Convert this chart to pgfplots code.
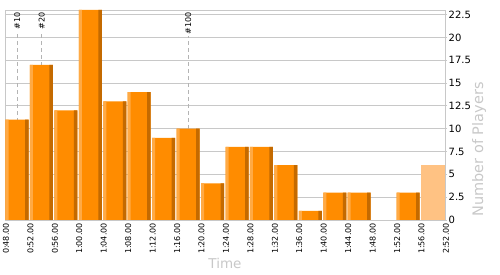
\documentclass[border=0pt]{standalone}
\usepackage{pgfplots}
\usepackage{pgfplotstable}
\usepackage{fontspec}
\setmainfont{DejaVu Sans}
\pgfplotsset{compat=1.18}
\definecolor{barmain}{HTML}{FF8C00}
\definecolor{barlight}{HTML}{FFAA45}
\definecolor{bardark}{HTML}{C46A00}
\definecolor{barlast}{HTML}{FFC283}
\definecolor{gridgray}{HTML}{C8C8C8}
\definecolor{labgray}{HTML}{C8C8C8}
\pgfplotstableread{
idx players
0 11
1 17
2 12
3 23
4 13
5 14
6 9
7 10
8 4
9 8
10 8
11 6
12 1
13 3
14 3
16 3
}\players
\pgfplotstableread{
idx players
17 6
}\lastbin
\begin{document}
\begin{tikzpicture}
\useasboundingbox (-5bp,-55bp) rectangle (495bp,220bp);
\begin{axis}[
  at={(0,0)}, anchor=south west,
  scale only axis,
  width=440bp, height=210bp,
  xmin=0, xmax=18, ymin=0, ymax=23,
  axis line style={gridgray, line width=0.8bp},
  xtick={0,...,18},
  xticklabels={0:48.00,0:52.00,0:56.00,1:00.00,1:04.00,1:08.00,1:12.00,1:16.00,1:20.00,1:24.00,1:28.00,1:32.00,1:36.00,1:40.00,1:44.00,1:48.00,1:52.00,1:56.00,2:52.00},
  xticklabel style={rotate=90, anchor=east, font=\fontsize{8bp}{9bp}\selectfont, yshift=-1bp, inner sep=1bp},
  xtick style={draw=none},
  ytick={0,2.5,...,22.5},
  yticklabel pos=right,
  ytick pos=right,
  ytick style={gridgray, line width=0.8bp},
  tick align=outside,
  major tick length=2bp,
  yticklabel style={font=\fontsize{10bp}{12bp}\selectfont, black, inner sep=1.5bp},
  /pgf/number format/assume math mode=true,
  /pgf/number format/.cd, fixed, precision=1,
  /pgfplots/.cd,
  ymajorgrids,
  grid style={gridgray, line width=0.8bp},
  xlabel={Time},
  xlabel style={at={(axis description cs:0.5,0)}, anchor=center, yshift=-43bp, font=\fontsize{13.5bp}{15bp}\selectfont, labgray},
  ylabel={Number of Players},
  ylabel style={at={(axis description cs:1.0773,0)}, anchor=west, font=\fontsize{14.5bp}{16bp}\selectfont, labgray},
  clip=true,
]
% markers of players' positions
\addplot[gridgray!90!black, dashed, dash pattern=on 4bp off 3bp, line width=0.8bp] coordinates {(0.5,0) (0.5,20.7)}
  node[pos=1, rotate=90, anchor=west, inner sep=1bp, black, font=\fontsize{8bp}{9bp}\selectfont] {\#10};
\addplot[gridgray!90!black, dashed, dash pattern=on 4bp off 3bp, line width=0.8bp] coordinates {(1.5,0) (1.5,20.7)}
  node[pos=1, rotate=90, anchor=west, inner sep=1bp, black, font=\fontsize{8bp}{9bp}\selectfont] {\#20};
\addplot[gridgray!90!black, dashed, dash pattern=on 4bp off 3bp, line width=0.8bp] coordinates {(7.5,0) (7.5,20.2)}
  node[pos=1, rotate=90, anchor=west, inner sep=1bp, black, font=\fontsize{8bp}{9bp}\selectfont] {\#100};
% bars
\addplot[ybar, draw=none, fill=barmain, bar width=23bp, bar shift=12bp] table[x=idx, y=players] {\players};
\addplot[ybar, draw=none, fill=barlight, bar width=3bp, bar shift=2bp] table[x=idx, y=players] {\players};
\addplot[ybar, draw=none, fill=bardark, bar width=3.5bp, bar shift=21.75bp] table[x=idx, y=players] {\players};
\addplot[ybar, draw=none, fill=barlast, bar width=23.5bp, bar shift=12.2bp] table[x=idx, y=players] {\lastbin};
\end{axis}
\end{tikzpicture}
\end{document}
